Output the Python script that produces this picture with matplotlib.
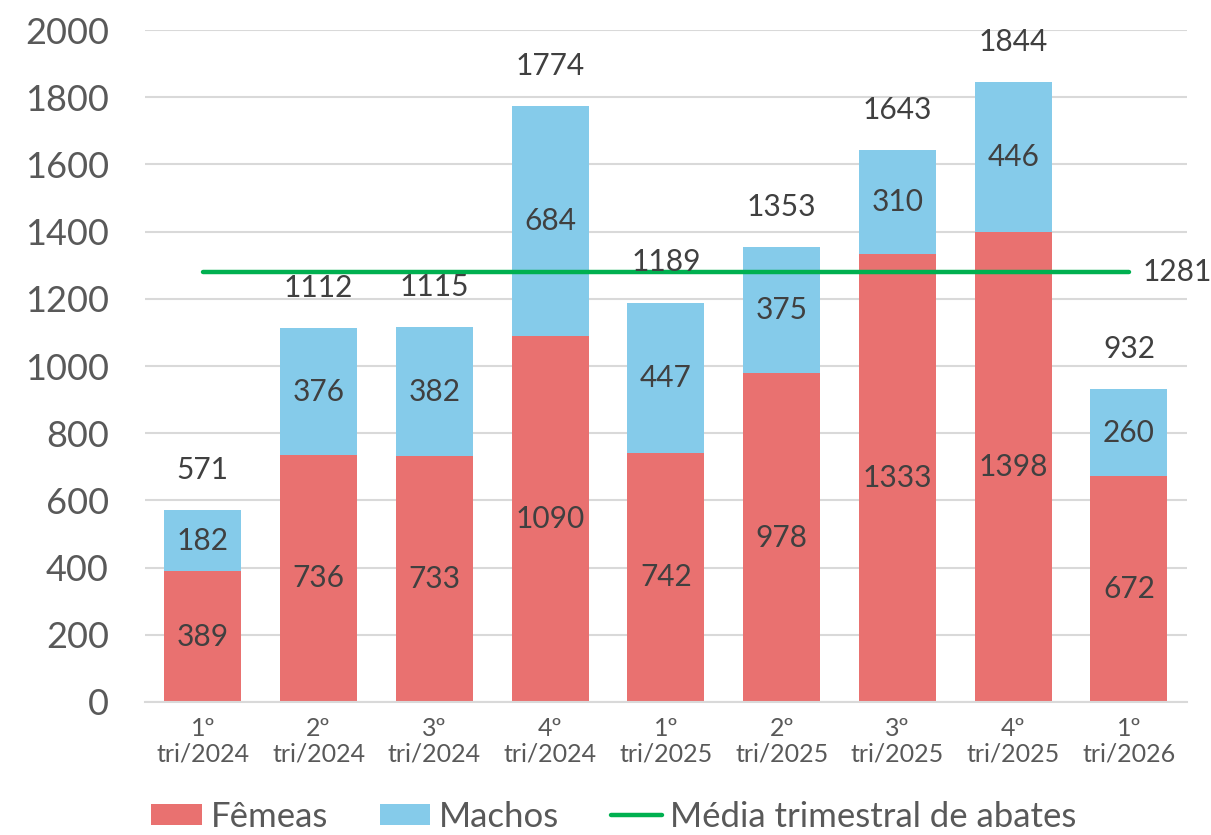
import matplotlib.pyplot as plt
import numpy as np

plt.rcParams["font.family"] = ["Lato", "DejaVu Sans"]

trimestres = ["1º\ntri/2024", "2º\ntri/2024", "3º\ntri/2024", "4º\ntri/2024",
              "1º\ntri/2025", "2º\ntri/2025", "3º\ntri/2025", "4º\ntri/2025",
              "1º\ntri/2026"]
femeas = [389, 736, 733, 1090, 742, 978, 1333, 1398, 672]
machos = [182, 376, 382, 684, 447, 375, 310, 446, 260]
totais = [571, 1112, 1115, 1774, 1189, 1353, 1643, 1844, 932]
media = 1281

RED = "#E97170"
BLUE = "#85CBEA"
GREEN = "#00B050"
TICK = "#595959"
LABEL = "#404040"

x = np.arange(len(trimestres))
fig = plt.figure(figsize=(12.11, 8.35), dpi=100)
ax = fig.add_axes([0.1197, 0.1593, 0.8603, 0.8047])

w = 0.665
b1 = ax.bar(x, femeas, w, color=RED, label="Fêmeas", zorder=2)
b2 = ax.bar(x, machos, w, bottom=femeas, color=BLUE, label="Machos", zorder=2)
ln, = ax.plot([x[0], x[-1]], [media, media], color=GREEN, lw=3.2,
              solid_capstyle="round", label="Média trimestral de abates",
              zorder=3)

fs = 21.5
for i in x:
    ax.text(i, femeas[i] / 2, str(femeas[i]), ha="center", va="center",
            fontsize=fs, color=LABEL, zorder=4)
    ax.text(i, femeas[i] + machos[i] / 2, str(machos[i]), ha="center",
            va="center", fontsize=fs, color=LABEL, zorder=4)
    ax.annotate(str(totais[i]), (i, totais[i]), xytext=(0, 29),
                textcoords="offset points", ha="center", va="center",
                fontsize=fs, color=LABEL, zorder=4)
ax.annotate(str(media), (x[-1], media), xytext=(10, 0),
            textcoords="offset points", ha="left", va="center",
            fontsize=fs, color=LABEL, annotation_clip=False)

ax.set_xlim(-0.5, len(x) - 0.5)
ax.set_ylim(0, 2000)
ax.set_yticks(range(0, 2001, 200))
ax.set_xticks(x)
ax.set_xticklabels(trimestres, fontsize=18, color=TICK, linespacing=1.1)
ax.tick_params(axis="y", labelsize=26, labelcolor=TICK, length=0, pad=26)
ax.tick_params(axis="x", length=0, pad=11)
ax.grid(axis="y", color="#D9D9D9", lw=1.5, zorder=0)
for s in ["top", "right", "left"]:
    ax.spines[s].set_visible(False)
ax.spines["bottom"].set_color("#D9D9D9")
ax.spines["bottom"].set_linewidth(1.5)

fig.legend(handles=[b1, b2, ln], loc="center", bbox_to_anchor=(0.507, 0.022),
           ncol=3, frameon=False, fontsize=25, labelcolor=TICK,
           handlelength=1.45, handleheight=0.55, handletextpad=0.25,
           columnspacing=1.5, borderpad=0.1)

fig.savefig("out.png", dpi=100)
